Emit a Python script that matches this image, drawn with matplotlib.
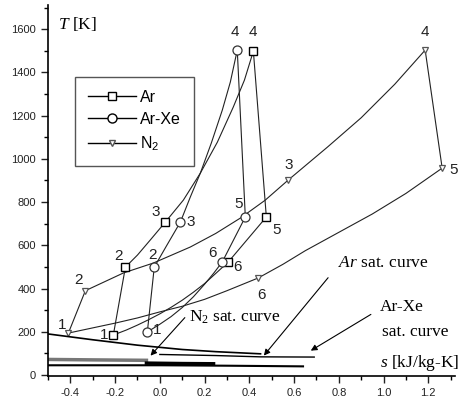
import matplotlib
matplotlib.use("Agg")
import matplotlib.pyplot as plt
from matplotlib.ticker import MultipleLocator, FormatStrFormatter

plt.rcParams['axes.unicode_minus'] = False
plt.rcParams['font.family'] = ['Liberation Sans', 'DejaVu Sans']
plt.rcParams['mathtext.fontset'] = 'custom'
plt.rcParams['mathtext.it'] = 'Liberation Serif:italic'
plt.rcParams['mathtext.rm'] = 'Liberation Serif'

# state points 1..6 of each cycle (s in kJ/kg-K, T in K)
ar_s = [-0.208, -0.154, 0.025, 0.418, 0.476, 0.306]
ar_T = [185, 499, 708, 1498, 731, 523]
arxe_s = [-0.056, -0.025, 0.092, 0.346, 0.382, 0.279]
arxe_T = [199, 499, 708, 1503, 731, 523]
n2_s = [-0.409, -0.333, 0.574, 1.186, 1.262, 0.440]
n2_T = [194, 390, 902, 1503, 957, 449]

# cycle lines (closed loops)
ar_line_s = [-0.208, -0.154, -0.1, -0.04, 0.025, 0.105, 0.181, 0.257, 0.328, 0.378, 0.418,
             0.476, 0.306, 0.25, 0.2, 0.15, 0.1, 0.05, 0.0, -0.05, -0.1, -0.15, -0.208]
ar_line_T = [185, 499, 555, 628, 708, 809, 934, 1077, 1239, 1364, 1498,
             731, 523, 470, 423, 383, 346, 313, 283, 256, 231, 208, 185]
arxe_line_s = [-0.056, -0.025, 0.03, 0.092, 0.136, 0.181, 0.230, 0.279, 0.315, 0.346,
               0.382, 0.279, 0.24, 0.2, 0.15, 0.1, 0.05, 0.0, -0.056]
arxe_line_T = [199, 499, 598, 708, 823, 934, 1073, 1225, 1355, 1503,
               731, 523, 470, 420, 362, 312, 270, 235, 199]
n2_line_s = [-0.409, -0.333, -0.163, -0.029, 0.136, 0.25, 0.36, 0.47, 0.574, 0.75, 0.9, 1.05, 1.186,
             1.262, 1.1, 0.95, 0.8, 0.65, 0.55, 0.44, 0.3, 0.2, 0.1, 0.0, -0.1, -0.2, -0.3, -0.409]
n2_line_T = [194, 390, 472, 518, 592, 655, 726, 808, 902, 1055, 1190, 1345, 1503,
             957, 840, 745, 660, 575, 512, 449, 390, 350, 318, 292, 264, 240, 218, 194]

# saturation curves
ar_sat_s = [-0.5, -0.3, -0.1, 0.1, 0.25, 0.45]
ar_sat_T = [190, 163, 138, 118, 108, 98]
arxe_sat_s = [0.0, 0.25, 0.45, 0.69]
arxe_sat_T = [95, 90, 84, 83]
n2_sat_s = [-0.5, -0.3, -0.06]
n2_sat_T = [72, 70, 68]
n2_sat2_s = [-0.06, 0.1, 0.24]
n2_sat2_T = [55, 53, 52]
low_sat_s = [-0.5, 0.0, 0.3, 0.64]
low_sat_T = [45, 45, 43, 40]

fig = plt.figure(figsize=(4.59, 4.04), dpi=100)
ax = fig.add_axes([0.1046, 0.0693, 0.887, 0.918])

lc = '#222222'
ax.plot(ar_line_s, ar_line_T, color=lc, lw=0.8)
ax.plot(arxe_line_s, arxe_line_T, color=lc, lw=0.8)
ax.plot(n2_line_s, n2_line_T, color=lc, lw=0.8)

ax.plot(ar_s, ar_T, 's', ms=6, mfc='white', mec='black', mew=1.0, ls='none')
ax.plot(arxe_s, arxe_T, 'o', ms=6.5, mfc='white', mec='#333333', mew=0.9, ls='none')
ax.plot(n2_s, n2_T, 'v', ms=5, mfc='white', mec='#555555', mew=0.9, ls='none')

ax.plot(ar_sat_s, ar_sat_T, color='black', lw=1.2)
ax.plot(arxe_sat_s, arxe_sat_T, color='black', lw=1.0)
ax.plot(n2_sat_s, n2_sat_T, color='#777777', lw=2.5)
ax.plot(n2_sat2_s, n2_sat2_T, color='black', lw=2.5)
ax.plot(low_sat_s, low_sat_T, color='black', lw=1.5)

# legend
ax.plot([], [], 's-', color='black', ms=6, mfc='white', lw=1, label='Ar')
ax.plot([], [], 'o-', color='black', ms=6.5, mfc='white', lw=1, label='Ar-Xe')
ax.plot([], [], 'v-', color='black', ms=5, mfc='white', mec='#555555', lw=1,
        label=r'$\mathregular{N_2}$')
leg = ax.legend(loc='upper left', bbox_to_anchor=(0.066, 0.806), borderaxespad=0, fontsize=11.5,
                fancybox=False, edgecolor='#555555', framealpha=1,
                handlelength=3.0, handletextpad=0.3, borderpad=0.8, labelspacing=0.45)
leg.get_frame().set_linewidth(1.0)

# state numbers
ar_off = [(-9, 0), (-7, 11), (-10, 10), (0, 19), (10, -13), (9, -5)]
arxe_off = [(10, 2), (-2, 12), (10, 0), (-2, 18), (-7, 13), (-10, 9)]
n2_off = [(-6, 8), (-7, 11), (0, 15), (0, 18), (11, -2), (3, -17)]
for ss, TT, offs in [(ar_s, ar_T, ar_off), (arxe_s, arxe_T, arxe_off), (n2_s, n2_T, n2_off)]:
    for i in range(6):
        ax.annotate(str(i + 1), (ss[i], TT[i]), xytext=offs[i], textcoords='offset pixels',
                    ha='center', va='center', fontsize=11, color='#222222')

serif = ['Liberation Serif', 'DejaVu Serif']
ax.text(-0.455, 1625, '$T$ [K]', family=serif, fontsize=12.5, va='center')
ax.text(1.338, 55, '$s$ [kJ/kg-K]', family=serif, fontsize=12.5, ha='right', va='center')
ax.text(1.0, 518, '$Ar$ sat. curve', family=serif, fontsize=12.5, ha='center', va='center')
ax.text(1.08, 314, 'Ar-Xe', family=serif, fontsize=12.5, ha='center', va='center')
ax.text(1.14, 199, 'sat. curve', family=serif, fontsize=12.5, ha='center', va='center')
ax.text(0.13, 268, r'$\mathregular{N_2}$ sat. curve', family=serif, fontsize=12.5,
        ha='left', va='center')

arw = dict(arrowstyle='-|>', color='black', lw=0.8, mutation_scale=9)
ax.annotate('', xy=(0.457, 80), xytext=(0.76, 460), arrowprops=arw)
ax.annotate('', xy=(0.664, 106), xytext=(0.954, 287), arrowprops=arw)
ax.annotate('', xy=(-0.05, 80), xytext=(0.12, 275), arrowprops=arw)

ax.set_xlim(-0.5, 1.32)
ax.set_ylim(-4.6, 1711)
ax.spines['top'].set_visible(False)
ax.spines['right'].set_visible(False)
ax.xaxis.set_major_locator(MultipleLocator(0.2))
ax.xaxis.set_minor_locator(MultipleLocator(0.1))
ax.xaxis.set_major_formatter(FormatStrFormatter('%.1f'))
ax.yaxis.set_major_locator(MultipleLocator(200))
ax.yaxis.set_minor_locator(MultipleLocator(100))
ax.tick_params(which='major', direction='out', length=5, width=1, labelsize=8, colors='#222222')
ax.tick_params(which='minor', direction='out', length=3, width=1)
ax.set_xticks([-0.4, -0.2, 0.0, 0.2, 0.4, 0.6, 0.8, 1.0, 1.2])
for sp in ax.spines.values():
    sp.set_linewidth(1.2)

fig.savefig('out.png', dpi=100)
